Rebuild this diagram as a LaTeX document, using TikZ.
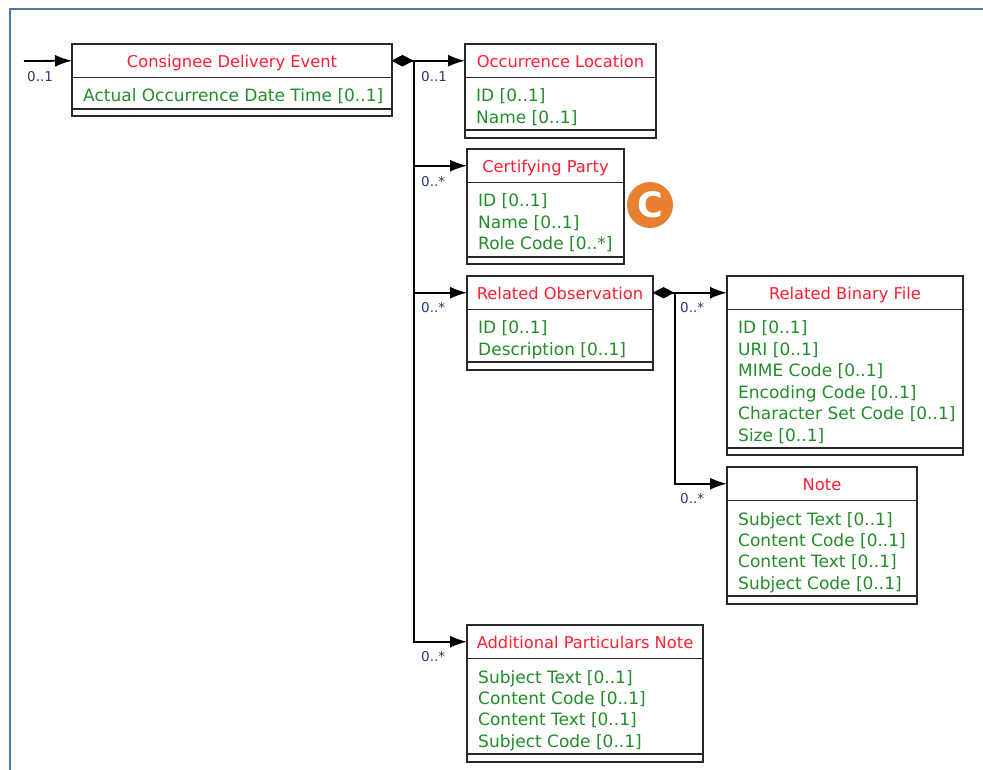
\documentclass[tikz,border=0pt]{standalone}
\usepackage{fontspec}
\setmainfont{DejaVu Sans}
\usetikzlibrary{arrows.meta,calc}
\definecolor{hred}{RGB}{255,30,50}
\definecolor{agreen}{RGB}{34,140,40}
\definecolor{lblc}{RGB}{36,58,112}
\definecolor{boxc}{RGB}{40,40,40}
\definecolor{framec}{RGB}{80,122,170}
\definecolor{badge}{RGB}{232,128,50}
\tikzset{
  hdrbox/.style={draw=boxc, line width=1.9pt, outer sep=0pt, anchor=north west, minimum height=33.5pt, inner sep=0pt,
    text=hred, font=\fontsize{16.3}{19}\selectfont, text height=17pt, text depth=3pt},
  attbox/.style={draw=boxc, line width=1.9pt, outer sep=0pt, anchor=north west, inner sep=0pt},
  footbox/.style={draw=boxc, line width=1.9pt, outer sep=0pt, anchor=north west, inner sep=0pt, minimum height=7.5pt},
  attr/.style={anchor=base west, inner sep=0pt, text=agreen, font=\fontsize{17}{20}\selectfont},
  mult/.style={anchor=west, inner sep=0pt, text=lblc, font=\fontsize{13.5}{15}\selectfont},
  conn/.style={line width=1.8pt, black, -{Latex[length=17pt,width=12pt]}},
  dstart/.style={{Diamond[length=21pt,width=11pt]}-{Latex[length=17pt,width=12pt]}},
  frameline/.style={draw=framec, line width=2.5pt}
}
\newcommand\umlbox[7]{%
  \node[hdrbox, minimum width=#4 pt] (#1) at (#2,#3) {#5};
  \node[attbox, minimum width=#4 pt, minimum height={(10+21.4*#6)*1pt}] (#1A) at (#1.south west) {};
  \node[footbox, minimum width=#4 pt] (#1F) at (#1A.south west) {};
  \foreach \t [count=\i] in {#7} {
    \node[attr] (#1r\i) at ($(#1A.north west)+(11,{24.5+21.4*(\i-1)})$) {\t};
  }
}
\begin{document}
\begin{tikzpicture}[x=1pt,y=-1pt]
\useasboundingbox (0,0) rectangle (983,770);
\draw[frameline] (10,772) -- (10,9) -- (985,9);

\umlbox{cde}{72}{44}{320}{Consignee Delivery Event}{1}{Actual Occurrence Date Time [0..1]}
\umlbox{ol}{465}{44}{191}{Occurrence Location}{2}{ID [0..1],Name [0..1]}
\umlbox{cp}{467}{149}{157}{Certifying Party}{3}{ID [0..1],Name [0..1],Role Code [0..*]}
\umlbox{ro}{467}{276}{186}{Related Observation}{2}{ID [0..1],Description [0..1]}
\umlbox{rbf}{727}{276}{236}{Related Binary File}{6}{ID [0..1],URI [0..1],MIME Code [0..1],Encoding Code [0..1],Character Set Code [0..1],Size [0..1]}
\umlbox{note}{727}{467}{190}{Note}{4}{Subject Text [0..1],Content Code [0..1],Content Text [0..1],Subject Code [0..1]}
\umlbox{apn}{467}{625}{236}{Additional Particulars Note}{4}{Subject Text [0..1],Content Code [0..1],Content Text [0..1],Subject Code [0..1]}

% connectors
\coordinate (src) at (24,61);
\draw[conn] (src) -- (cde.west);
\draw[conn, dstart] (cde.east) -- ++(22,0) |- (ol.west);
\draw[conn, dstart] (cde.east) -- ++(22,0) |- (cp.west);
\draw[conn, dstart] (cde.east) -- ++(22,0) |- (ro.west);
\draw[conn, dstart] (cde.east) -- ++(22,0) |- (apn.west);
\draw[conn, dstart] (ro.east) -- ++(22,0) |- (rbf.west);
\draw[conn, dstart] (ro.east) -- ++(22,0) |- (note.west);

% multiplicities
\node[mult] (m0) at (27,77) {0..1};
\node[mult] (m1) at (421,77) {0..1};
\node[mult] (m2) at (421,182) {0..*};
\node[mult] (m3) at (421,308) {0..*};
\node[mult] (m4) at (680,308) {0..*};
\node[mult] (m5) at (680,499) {0..*};
\node[mult] (m6) at (421,657) {0..*};

% badge
\node[circle, fill=badge, minimum size=46pt, inner sep=0pt, text=white,
  font=\bfseries\fontsize{35}{35}\selectfont] (badgeC) at (650,205) {C};
\end{tikzpicture}
\end{document}
